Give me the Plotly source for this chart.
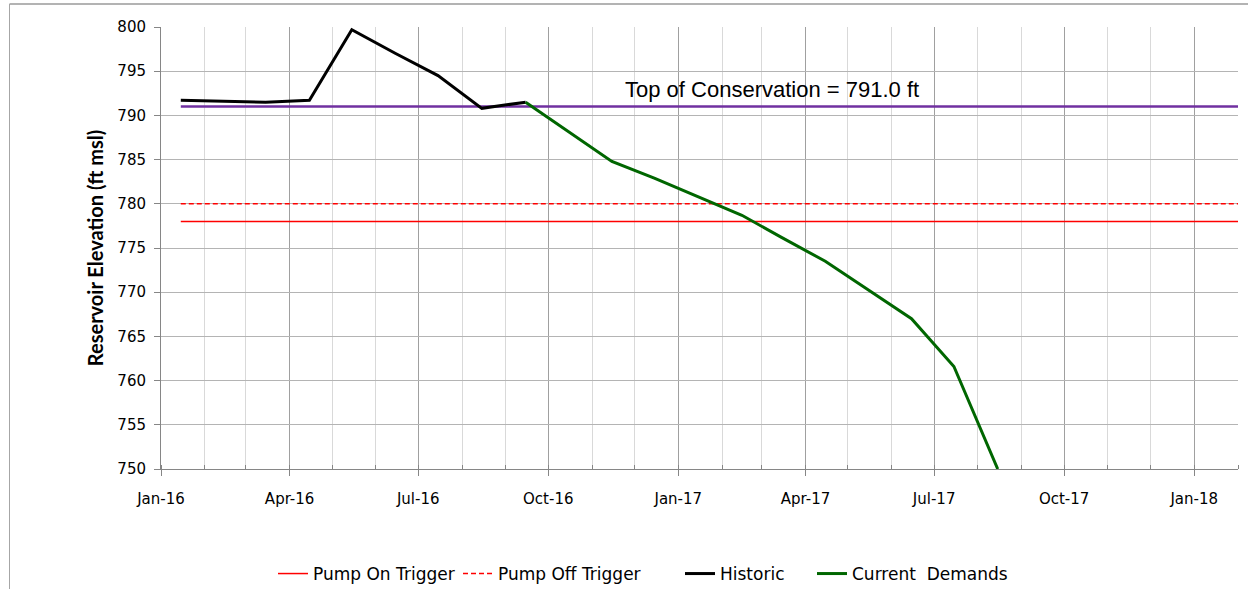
import plotly.graph_objects as go

# ---- data ----
hist_dates = ["2016-01-15", "2016-02-15", "2016-03-15", "2016-04-15", "2016-05-15",
              "2016-06-15", "2016-07-15", "2016-08-15", "2016-09-15"]
hist_vals = [791.7, 791.6, 791.5, 791.7, 799.7, 797.0, 794.5, 790.8, 791.5]

dem_dates = ["2016-09-15", "2016-10-15", "2016-11-15", "2016-12-15", "2017-01-15",
             "2017-02-15", "2017-03-15", "2017-04-15", "2017-05-15", "2017-06-15",
             "2017-07-15", "2017-08-15"]
dem_vals = [791.5, 788.2, 784.8, 782.9, 780.8, 778.7, 776.2, 773.5, 770.3, 767.0, 761.6, 750.0]

level_dates = ["2016-01-15", "2018-02-01"]
pump_on = [778.0, 778.0]
pump_off = [780.0, 780.0]
top_cons = [791.0, 791.0]

x_range = ["2016-01-01", "2018-02-01"]
y_range = [750, 800]

FONT = "DejaVu Sans"
W, H = 1248, 589
ML, MR, MT, MB = 161, 10, 27, 120
PW = W - ML - MR
PH = H - MT - MB


def px_to_paper_x(px):
    return (px - ML) / PW


def px_to_paper_y(py):
    return (H - MB - py) / PH


fig = go.Figure()
fig.add_trace(go.Scatter(x=level_dates, y=top_cons, mode="lines",
                         line=dict(color="#7030A0", width=2.5), showlegend=False,
                         hoverinfo="skip"))
fig.add_trace(go.Scatter(x=level_dates, y=pump_on, mode="lines", name="Pump On Trigger",
                         line=dict(color="#FF0000", width=1.5), legend="legend"))
fig.add_trace(go.Scatter(x=level_dates, y=pump_off, mode="lines", name="Pump Off Trigger",
                         line=dict(color="#FF0000", width=1.5, dash="5px,3px"), legend="legend2"))
fig.add_trace(go.Scatter(x=hist_dates, y=hist_vals, mode="lines", name="Historic",
                         line=dict(color="#000000", width=3), legend="legend3"))
fig.add_trace(go.Scatter(x=dem_dates, y=dem_vals, mode="lines", name="Current\u00a0 Demands",
                         line=dict(color="#006600", width=3), legend="legend4"))

fig.add_annotation(x=px_to_paper_x(772), xref="paper", y=792.9, yref="y",
                   text="Top of Conservation = 791.0 ft", showarrow=False,
                   font=dict(family="Liberation Sans, Arial", size=22, color="#000000"),
                   xanchor="center", yanchor="middle")

# outer chart border (top and left edges are the visible ones)
border = dict(color="#9A9A9A", width=1.5)
fig.add_shape(type="line", xref="paper", yref="paper",
              x0=px_to_paper_x(9.5), x1=px_to_paper_x(1260),
              y0=px_to_paper_y(4), y1=px_to_paper_y(4), line=border, layer="above")
fig.add_shape(type="line", xref="paper", yref="paper",
              x0=px_to_paper_x(9.5), x1=px_to_paper_x(9.5),
              y0=px_to_paper_y(4), y1=px_to_paper_y(600), line=dict(color="#A6A6A6", width=1),
              layer="above")

legend_common = dict(orientation="h", xanchor="left", yanchor="middle",
                     y=px_to_paper_y(574), font=dict(family=FONT, size=17, color="#000000"),
                     itemwidth=30, bgcolor="rgba(0,0,0,0)")

fig.update_layout(
    width=W, height=H,
    margin=dict(l=ML, r=MR, t=MT, b=MB, autoexpand=False),
    paper_bgcolor="white", plot_bgcolor="white",
    font=dict(family=FONT, size=15, color="#000000"),
    legend=dict(x=px_to_paper_x(273), **legend_common),
    legend2=dict(x=px_to_paper_x(458), **legend_common),
    legend3=dict(x=px_to_paper_x(680), **legend_common),
    legend4=dict(x=px_to_paper_x(812), **legend_common),
    showlegend=True,
)

fig.update_xaxes(
    type="date", range=x_range, dtick="M3", tick0="2016-01-01", tickformat="%b-%y",
    ticks="outside", ticklen=6, tickcolor="#868686",
    showline=True, linecolor="#868686", linewidth=1,
    showgrid=True, gridcolor="#A0A0A0", gridwidth=1,
    minor=dict(dtick="M1", tick0="2016-01-01", showgrid=True, gridcolor="#D9D9D9",
               ticks="inside", ticklen=4, tickcolor="#868686"),
    tickfont=dict(family=FONT, size=15, color="#000000"),
    ticklabelstandoff=10,
    zeroline=False, automargin=False,
)
fig.update_yaxes(
    range=y_range, dtick=5, tick0=750,
    ticks="outside", ticklen=6, tickcolor="#868686",
    showline=True, linecolor="#868686", linewidth=1,
    showgrid=True, gridcolor="#B4B4B4", gridwidth=1,
    tickfont=dict(family=FONT, size=15, color="#000000"),
    ticklabelstandoff=5,
    title=dict(text="<b>Reservoir Elevation (ft msl)</b>",
               font=dict(family="Lato", size=20, color="#000000"), standoff=8),
    zeroline=False, automargin=False,
)

fig.write_html("out.html", config={"displayModeBar": False},
               post_script="document.body.style.margin='0';")
